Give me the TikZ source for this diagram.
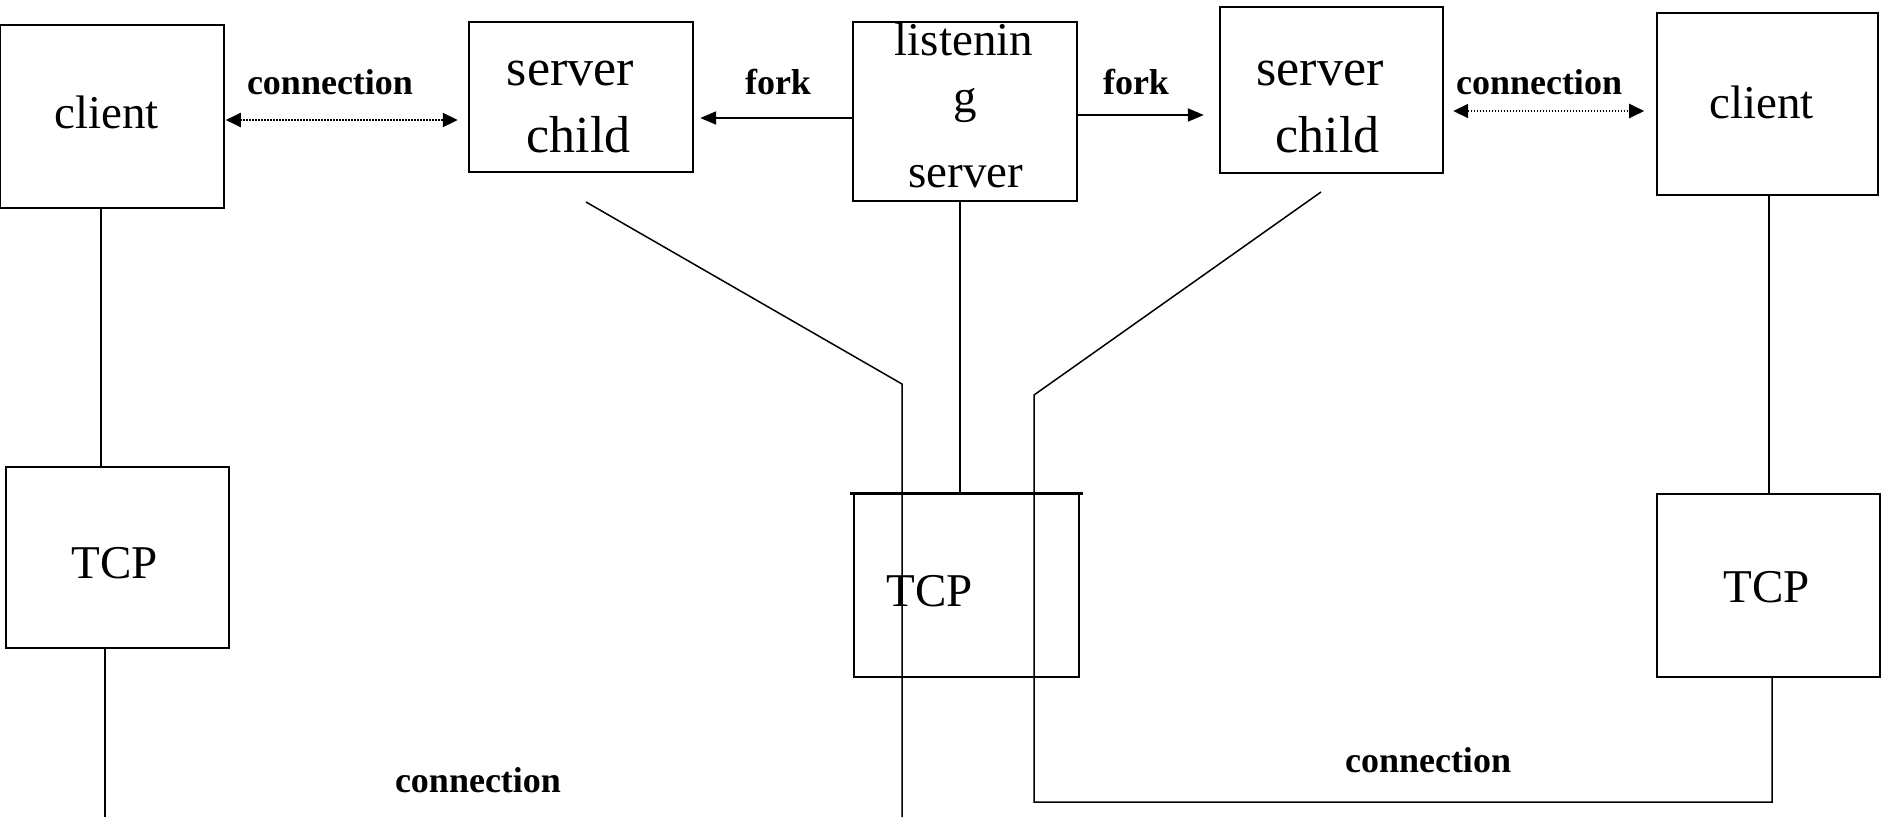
\documentclass[tikz,border=0pt]{standalone}
\usepackage{fontspec}
\setmainfont{Liberation Serif}
\usetikzlibrary{arrows.meta}
\begin{document}
\begin{tikzpicture}[x=1pt,y=-1pt,
  box/.style={draw, line width=1.6pt, inner sep=0pt},
  heavybox/.style={box, line width=2.4pt},
  word/.style={inner sep=0pt, anchor=base, font=\fontsize{47}{56}\selectfont},
  bigword/.style={word, font=\fontsize{52}{62}\selectfont},
  lbl/.style={inner sep=0pt, anchor=base, font=\fontsize{36}{42}\selectfont\bfseries},
  link/.style={line width=1.5pt},
  trunk/.style={line width=2.8pt},
  forkarrow/.style={line width=2pt, -{Triangle[length=16pt,width=13pt]}},
  connarrow/.style={line width=2pt, dash pattern=on 1.6pt off 1.4pt,
    {Triangle[length=15pt,width=14pt]}-{Triangle[length=15pt,width=14pt]}}]
\useasboundingbox (0,0) rectangle (1886,817);

% process boxes
\node[box, minimum width=224pt, minimum height=183pt] (cl) at (112,116.5) {};
\node[heavybox, minimum width=224pt, minimum height=150pt] (scl) at (581,97) {};
\node[heavybox, minimum width=224pt, minimum height=179pt] (ls) at (965,111.5) {};
\node[heavybox, minimum width=223pt, minimum height=166pt] (scr) at (1331.5,90) {};
\node[box, minimum width=221pt, minimum height=182pt] (cr) at (1767.5,104) {};

% TCP boxes
\node[box, minimum width=223pt, minimum height=181pt] (tl) at (117.5,557.5) {};
\node[box, minimum width=225pt, minimum height=183pt] (tm) at (966.5,585.5) {};
\node[box, minimum width=223pt, minimum height=183pt] (tr) at (1768.5,585.5) {};
% heavier top edge of the middle TCP box
\draw[trunk] ([xshift=-3pt]tm.north west) -- ([xshift=3pt]tm.north east);

% box texts
\node[word] (cl-t) at (106.5,128) {client};
\node[word] (cr-t) at (1761.5,118) {client};
\node[bigword] (scl-t1) at (570.5,85) {server};
\node[bigword] (scl-t2) at (578.5,152) {child};
\node[bigword] (scr-t1) at (1320,85) {server};
\node[bigword] (scr-t2) at (1327.5,152) {child};
\node[word] (ls-t1) at (964,55) {listenin};
\node[word] (ls-t2) at (965,112) {g};
\node[word] (ls-t3) at (966,187) {server};
\node[word] (tl-t) at (115,578) {TCP};
\node[word] (tm-t) at (930,606) {TCP};
\node[word] (tr-t) at (1767,602) {TCP};

% helper coordinates
\coordinate (fa) at (0,118);
\coordinate (fb) at (0,115);
\coordinate (ca) at (0,120);
\coordinate (cb) at (0,111);
\coordinate (tlb) at (105,817);
\coordinate (ld1) at (586,202);
\coordinate (ld2) at (902,384);
\coordinate (ld3) at (902,817);
\coordinate (rd1) at (1321,192);
\coordinate (rd2) at (1034,395);
\coordinate (rd3) at (1034,802);
\coordinate (rd4) at (1772,802);

% vertical links between processes and TCP
\draw[link] ([xshift=-11pt]cl.south) -- ([xshift=-16.5pt]tl.north);
\draw[link] ([xshift=-12.5pt]tl.south) -- (tlb);
\draw[trunk] ([xshift=-5pt]ls.south) -- ([xshift=-6.5pt]tm.north);
\draw[link] ([xshift=1.5pt]cr.south) -- ([xshift=0.5pt]tr.north);

% server children down to the network
\draw[link] (ld1) -- (ld2) -- (ld3);
\draw[link] (rd1) -- (rd2) -- (rd3) -- (rd4) -- ([xshift=3.5pt]tr.south);

% fork arrows
\draw[forkarrow, shorten >=6pt] (ls.west |- fa) -- (scl.east |- fa);
\draw[forkarrow, shorten >=15pt] (ls.east |- fb) -- (scr.west |- fb);

% connections
\draw[connarrow, shorten <=1pt, shorten >=10pt] (cl.east |- ca) -- (scl.west |- ca);
\draw[connarrow, shorten <=9pt, shorten >=12pt] (scr.east |- cb) -- (cr.west |- cb);

% labels
\node[lbl] (c1) at (330,94) {connection};
\node[lbl] (f1) at (778,94) {fork};
\node[lbl] (f2) at (1136,94) {fork};
\node[lbl] (c2) at (1539,94) {connection};
\node[lbl] (c3) at (478,792) {connection};
\node[lbl] (c4) at (1428,772) {connection};
\end{tikzpicture}
\end{document}
